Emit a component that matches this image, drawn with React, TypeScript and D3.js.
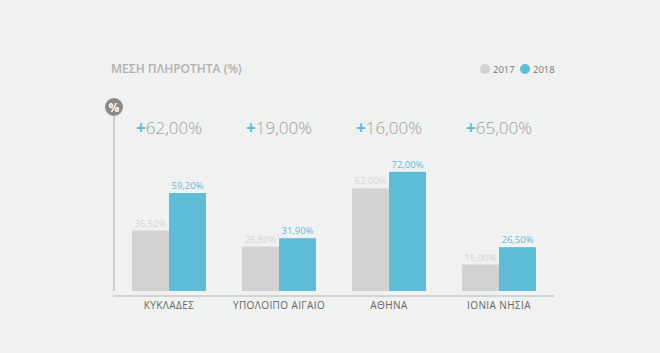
import * as d3 from "d3";

const categories = ["ΚΥΚΛΑΔΕΣ", "ΥΠΟΛΟΙΠΟ ΑΙΓΑΙΟ", "ΑΘΗΝΑ", "ΙΟΝΙΑ ΝΗΣΙΑ"];
const years = ["2017", "2018"];
const values2017 = [36.52, 26.8, 62.0, 16.0];
const values2018 = [59.2, 31.9, 72.0, 26.5];
const changes = ["62,00%", "19,00%", "16,00%", "65,00%"];

const W = 660;
const H = 353;
const grey = "#d4d2d0";
const blue = "#5fbcd6";
const font = "'Open Sans', sans-serif";

const fmt = (v: number) => v.toFixed(2).replace(".", ",") + "%";

export default function App() {
  const x0 = d3.scaleBand().domain(categories).range([114, 554]).padding(0);
  const x1 = d3.scaleBand().domain(years).range([0, x0.bandwidth()]).paddingInner(0).paddingOuter(0.486);
  const y = d3.scaleLinear().domain([0, 100]).range([291, 125.5]);
  const color = d3.scaleOrdinal<string>().domain(years).range([grey, blue]);

  const rows = categories.map((c, i) => ({ c, vals: [values2017[i], values2018[i]], change: changes[i] }));

  return (
    <svg
      width={W}
      height={H}
      style={{ position: "fixed", top: 0, left: 0, display: "block", background: "#f0f1f1" }}
      fontFamily={font}
    >
      <rect width={W} height={H} fill="#f0f1f1" />
      {/* title */}
      <text x={111} y={73} fontSize={12} fontWeight={600} fill="#b0b0b0">
        ΜΕΣΗ ΠΛΗΡΟΤΗΤΑ (%)
      </text>

      {/* legend */}
      {years.map((yr, i) => (
        <g key={yr} transform={`translate(${485 + i * 40},69)`}>
          <circle r={5} fill={color(yr)} />
          <text x={8} y={3.5} fontSize={9.5} fill="#777">
            {yr}
          </text>
        </g>
      ))}

      {/* vertical axis with % badge */}
      <line x1={114} x2={114} y1={107} y2={291} stroke="#cfcfcf" strokeWidth={2} />
      <circle cx={114} cy={107} r={9} fill="#8a8a8a" />
      <text x={114} y={111.5} textAnchor="middle" fontSize={12} fontWeight={700} fill="#fff">
        %
      </text>

      {/* baseline */}
      <line x1={113} x2={554} y1={296} y2={296} stroke="#c8c8c8" strokeWidth={1.5} />

      {rows.map((r) => {
        const gx = x0(r.c)!;
        const cx = gx + x0.bandwidth() / 2;
        return (
          <g key={r.c}>
            <text x={cx} y={134} textAnchor="middle" fontSize={17} fontWeight={300} fill="#a0a0a0">
              <tspan fill={blue} fontWeight={700}>+</tspan>
              {r.change}
            </text>
            {years.map((yr, j) => {
              const bx = gx + x1(yr)!;
              const v = r.vals[j];
              return (
                <g key={yr}>
                  <rect x={bx} y={y(v)} width={x1.bandwidth()} height={y(0) - y(v)} fill={color(yr)} />
                  <text
                    x={bx + x1.bandwidth() / 2}
                    y={y(v) - 4}
                    textAnchor="middle"
                    fontSize={9.5}
                    fill={j === 0 ? "#d6d4d2" : blue}
                  >
                    {fmt(v)}
                  </text>
                </g>
              );
            })}
            <text x={cx} y={309} textAnchor="middle" fontSize={10} fill="#666" letterSpacing={0.4}>
              {r.c}
            </text>
          </g>
        );
      })}
    </svg>
  );
}
